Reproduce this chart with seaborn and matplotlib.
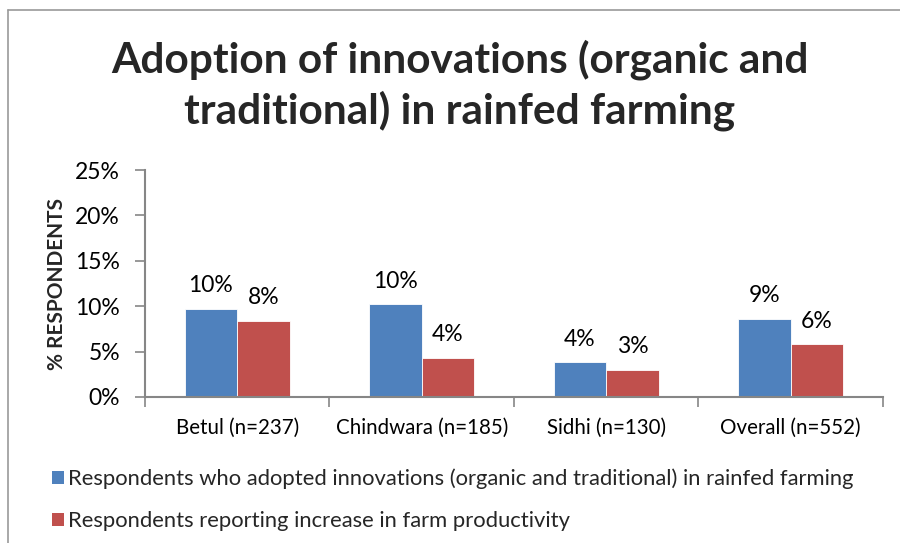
import matplotlib
matplotlib.use("Agg")
import matplotlib.pyplot as plt
from matplotlib.patches import Patch
from matplotlib.lines import Line2D
from matplotlib.ticker import PercentFormatter, FixedLocator, NullFormatter
import seaborn as sns
import pandas as pd

# Districts surveyed and share of respondents (%)
districts = ["Betul (n=237)", "Chindwara (n=185)", "Sidhi (n=130)", "Overall (n=552)"]
adopted = [9.7, 10.2, 3.8, 8.6]
increase = [8.4, 4.3, 3.0, 5.8]
series_names = [
    "Respondents who adopted innovations (organic and traditional) in rainfed farming",
    "Respondents reporting increase in farm productivity",
]
colors = ["#4F81BD", "#C0504D"]
y_ticks = [0, 5, 10, 15, 20, 25]

df = pd.DataFrame({
    "district": districts * 2,
    "value": adopted + increase,
    "series": [series_names[0]] * len(districts) + [series_names[1]] * len(districts),
})

sns.set_theme(style="white")
plt.rcParams["font.family"] = ["Lato", "DejaVu Sans"]

fig = plt.figure(figsize=(9, 5.43), dpi=100)
ax = fig.add_axes([0.1611, 0.2689, 0.82, 0.418])

sns.barplot(data=df, x="district", y="value", hue="series", order=districts,
            hue_order=series_names, palette=colors, saturation=1, width=0.57,
            edgecolor="white", linewidth=0.6, ax=ax, legend=False)

for cont in ax.containers:
    ax.bar_label(cont, labels=[f"{v:.0f}%" for v in cont.datavalues],
                 padding=9, fontsize=16.5, color="black")

axis_grey = "#868686"
ax.set_ylim(0, 25)
ax.set_xlim(-0.5, len(districts) - 0.5)
ax.set_yticks(y_ticks)
ax.yaxis.set_major_formatter(PercentFormatter(decimals=0))
ax.tick_params(axis="y", which="major", left=True, length=7, width=1.2,
               color=axis_grey, labelsize=16.5, pad=11, labelcolor="black")
ax.tick_params(axis="x", which="major", bottom=False, labelsize=14.8, pad=9,
               labelcolor="black")
ax.xaxis.set_minor_locator(FixedLocator([i - 0.5 for i in range(len(districts) + 1)]))
ax.xaxis.set_minor_formatter(NullFormatter())
ax.tick_params(axis="x", which="minor", bottom=True, length=7, width=1.2, color=axis_grey)

for side in ["top", "right"]:
    ax.spines[side].set_visible(False)
for side in ["left", "bottom"]:
    ax.spines[side].set_color(axis_grey)
    ax.spines[side].set_linewidth(1.5)

ax.set_xlabel("")
ax.set_ylabel("% RESPONDENTS", fontsize=15, fontweight="bold", labelpad=6)

fig.suptitle("Adoption of innovations (organic and\ntraditional) in rainfed farming",
             x=0.511, y=0.928, fontsize=30.5, fontweight="bold", linespacing=1.33)

handles = [Patch(facecolor=c, edgecolor="none") for c in colors]
fig.legend(handles, series_names, loc="upper left", bbox_to_anchor=(0.048, 0.153),
           frameon=False, fontsize=15.8, handlelength=0.55, handleheight=0.55,
           handletextpad=0.2, labelspacing=1.0, borderaxespad=0)

# chart frame: top and left rules
fig.add_artist(Line2D([8 / 900, 8 / 900], [0, 1 - 10 / 543], color="#9a9a9a", lw=1.2))
fig.add_artist(Line2D([8 / 900, 1], [1 - 10 / 543, 1 - 10 / 543], color="#9a9a9a", lw=1.2))

fig.savefig("out.png", dpi=100, facecolor="white")
